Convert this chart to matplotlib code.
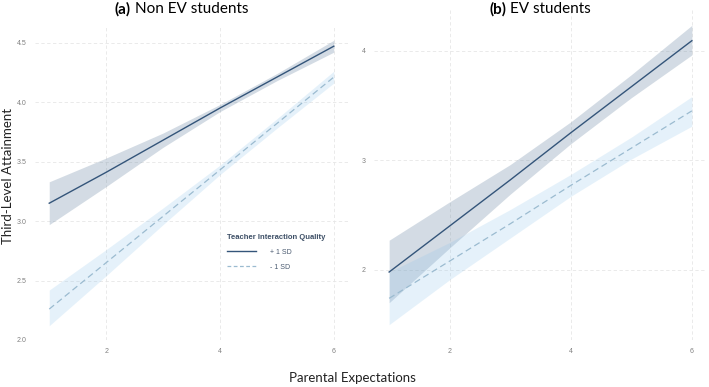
import matplotlib
matplotlib.use("Agg")
import matplotlib.pyplot as plt
from matplotlib.lines import Line2D

plt.rcParams['font.family'] = ['Lato', 'DejaVu Sans']

x = [1, 2, 3, 4, 5, 6]

# (a) Non EV students
a_hi = [3.15, 3.41, 3.68, 3.95, 4.21, 4.47]
a_hi_up = [3.33, 3.53, 3.74, 3.98, 4.24, 4.52]
a_hi_lo = [2.97, 3.29, 3.62, 3.92, 4.18, 4.42]
a_lo = [2.26, 2.65, 3.04, 3.43, 3.82, 4.21]
a_lo_up = [2.42, 2.76, 3.11, 3.47, 3.86, 4.26]
a_lo_lo = [2.12, 2.54, 2.97, 3.39, 3.78, 4.16]

# (b) EV students
b_hi = [1.98, 2.40, 2.82, 3.25, 3.67, 4.09]
b_hi_up = [2.27, 2.62, 2.96, 3.35, 3.78, 4.23]
b_hi_lo = [1.70, 2.20, 2.69, 3.15, 3.57, 3.96]
b_lo = [1.74, 2.08, 2.42, 2.77, 3.11, 3.45]
b_lo_up = [1.98, 2.25, 2.55, 2.87, 3.21, 3.58]
b_lo_lo = [1.50, 1.91, 2.29, 2.67, 3.01, 3.31]

hi_line = '#34557a'
hi_fill = '#6f8aa6'
lo_line = '#9bbbd0'
lo_fill = '#8cc3ea'
tick_font = 'Liberation Sans'

fig = plt.figure(figsize=(7.09, 3.87), dpi=100)
W, H = 709, 387
ax_a = fig.add_axes([35 / W, 1 - 340 / H, 313 / W, 314 / H])
ax_b = fig.add_axes([374 / W, 1 - 340 / H, 333 / W, 330 / H])


def draw(ax, hi, hi_up, hi_lo, lo, lo_up, lo_lo, yticks, ylabels, ylim):
    ax.fill_between(x, hi_lo, hi_up, color=hi_fill, alpha=0.3, lw=0)
    ax.fill_between(x, lo_lo, lo_up, color=lo_fill, alpha=0.22, lw=0)
    ax.plot(x, hi, color=hi_line, lw=1.0)
    ax.plot(x, lo, color=lo_line, lw=0.9, ls=(0, (5, 3)))
    ax.set_xlim(0.75, 6.25)
    ax.set_ylim(*ylim)
    ax.set_xticks([2, 4, 6])
    ax.set_xticklabels(['2', '4', '6'], family=tick_font)
    ax.set_yticks(yticks)
    ax.set_yticklabels(ylabels, family=tick_font)
    ax.tick_params(length=0, labelsize=5, colors='#808080', pad=6)
    ax.grid(color='#e6e6e6', ls=(0, (4, 3)), lw=0.6)
    ax.set_axisbelow(True)
    for s in ax.spines.values():
        s.set_visible(False)


draw(ax_a, a_hi, a_hi_up, a_hi_lo, a_lo, a_lo_up, a_lo_lo,
     [2.0, 2.5, 3.0, 3.5, 4.0, 4.5], ['2.0', '2.5', '3.0', '3.5', '4.0', '4.5'], (2.0, 4.64))
draw(ax_b, b_hi, b_hi_up, b_hi_lo, b_lo, b_lo_up, b_lo_lo,
     [2, 3, 4], ['2', '3', '4'], (1.36, 4.37))

handles = [Line2D([], [], color=hi_line, lw=1.0),
           Line2D([], [], color=lo_line, lw=0.9, ls=(0, (3, 2)))]
leg = ax_a.legend(handles, ['+ 1 SD', '- 1 SD'], title='Teacher Interaction Quality',
                  loc='upper left', bbox_to_anchor=(186 / 313, 1 - (228 - 26) / 314),
                  frameon=False, handlelength=4.2, handletextpad=2.0,
                  labelspacing=1.1, alignment='left',
                  prop={'family': tick_font, 'size': 5},
                  title_fontproperties={'family': tick_font, 'size': 5.5, 'weight': 'bold'})
leg.get_title().set_color('#3d4f66')
for t in leg.get_texts():
    t.set_color('#4a5a70')

fig.text(131 / W, 1 - 9 / H, '(a)', fontsize=11, fontweight='bold', ha='right', va='center')
fig.text(135 / W, 1 - 9 / H, 'Non EV students', fontsize=11, ha='left', va='center')
fig.text(507 / W, 1 - 9 / H, '(b)', fontsize=11, fontweight='bold', ha='right', va='center')
fig.text(510 / W, 1 - 9 / H, 'EV students', fontsize=11, ha='left', va='center')

fig.text(8 / W, 1 - 176 / H, 'Third-Level Attainment', fontsize=9.5, rotation=90,
         ha='center', va='center', color='#222222')
fig.text(352 / W, 1 - 378 / H, 'Parental Expectations', fontsize=9.5,
         ha='center', va='center', color='#222222')

fig.savefig('out.png', dpi=100)
